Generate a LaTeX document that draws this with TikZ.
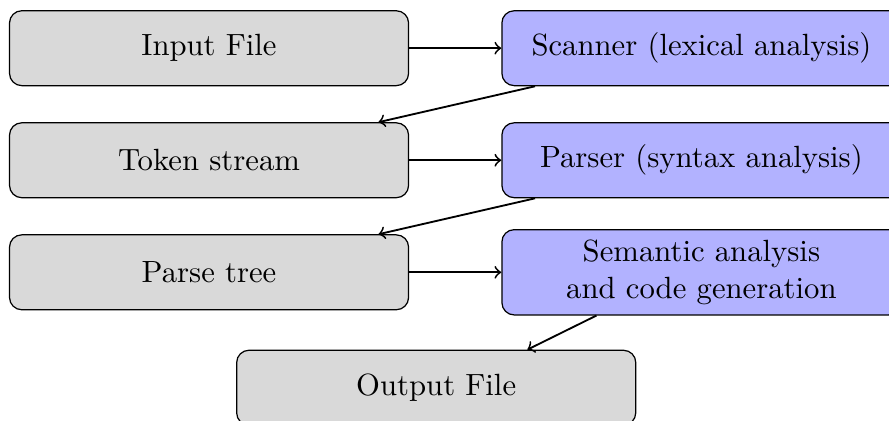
\documentclass[tikz,border=0pt]{standalone}
\usepackage{tikz}
\usetikzlibrary{calc,positioning}

\begin{document}
\begin{tikzpicture}[
	>=to,
	node distance=11.7pt and 30pt,
	cajagris/.style ={draw, rounded corners, fill=gray!30, minimum width=130pt, minimum height=24.4pt, align=center},
	cajaazul/.style ={cajagris, fill=blue!30},
	flecha/.style ={semithick, ->}]

	\node[cajagris] (input) {Input File};
	\node[cajaazul, right=of input] (scanner) {Scanner (lexical analysis)};
	\node[cajagris, below=of input] (tokens) {Token stream};
	\node[cajaazul, right=of tokens] (parser) {Parser (syntax analysis)};
	\node[cajagris, below=of tokens] (tree) {Parse tree};
	\node[cajaazul, right=of tree] (semantic) {Semantic analysis\\and code generation};
	\node[cajagris, below=12.8pt of tree, xshift=74pt] (output) {Output File};

	\draw [flecha] (input) -- (scanner);
	\draw [flecha] ($(scanner.south west)+(11pt,0)$) -- ($(tokens.north east)+(-10pt,0)$);
	\draw [flecha] (tokens) -- (parser);
	\draw [flecha] ($(parser.south west)+(11pt,0)$) -- ($(tree.north east)+(-10pt,0)$);
	\draw [flecha] (tree) -- (semantic);
	\draw [flecha] ($(semantic.south west)+(31pt,0)$) -- ($(output.north east)+(-35.5pt,0)$);

	% picture is cut at the right and at the bottom
	\pgfresetboundingbox
	\useasboundingbox ($(input.north west)+(-2.9pt,3.3pt)$) rectangle ++(289.6pt,-137.1pt);

\end{tikzpicture}
\end{document}
